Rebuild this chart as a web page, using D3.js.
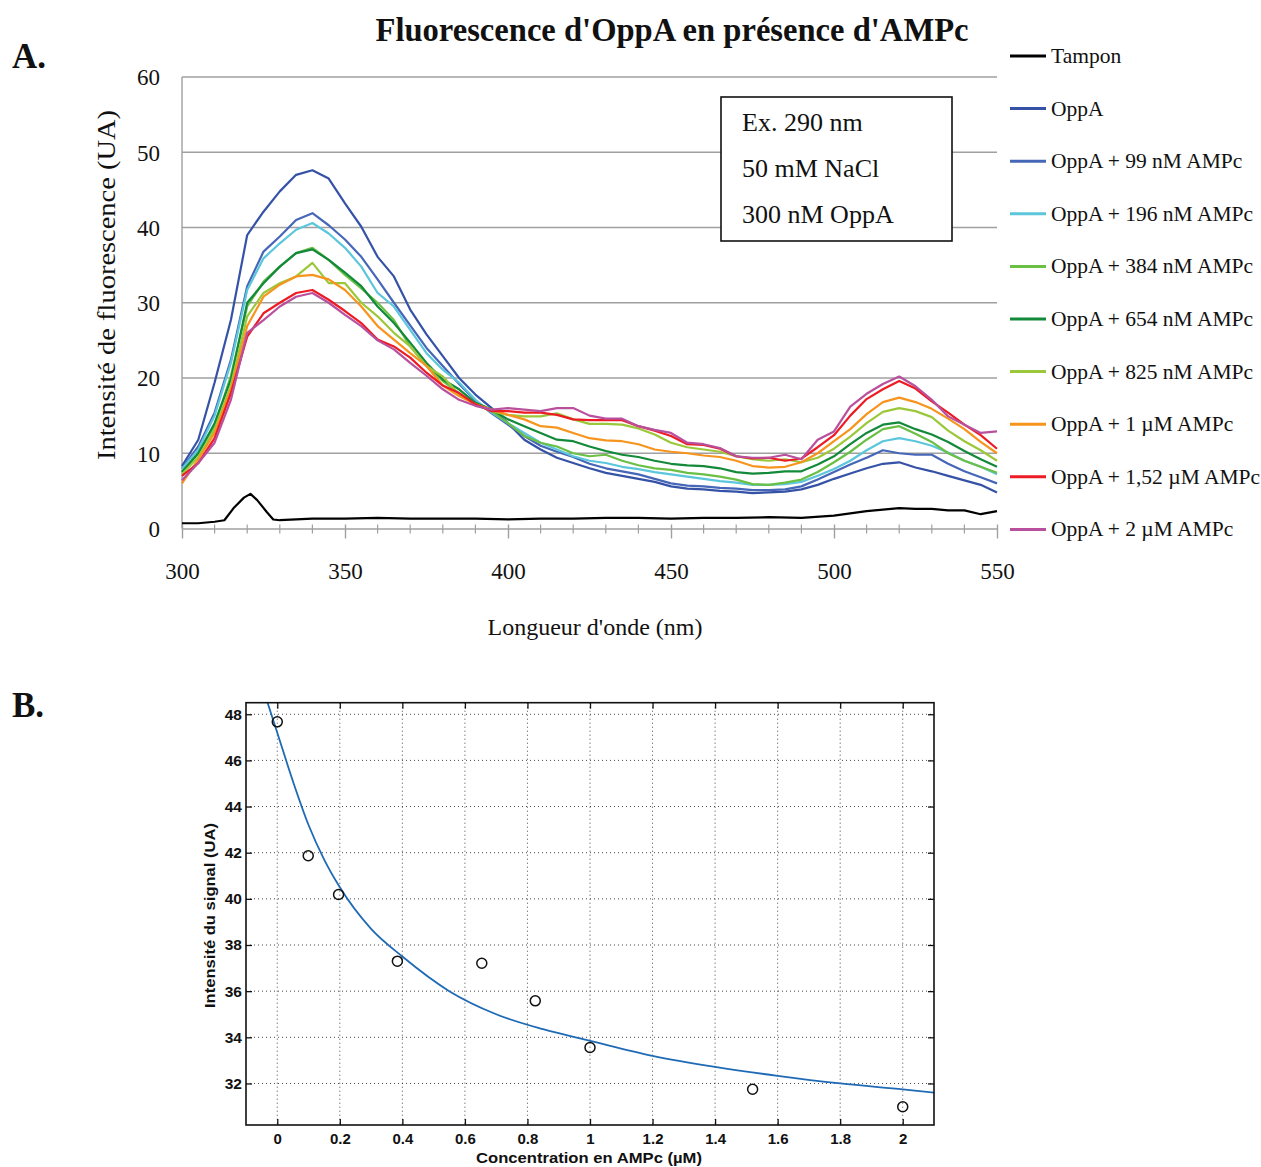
<!DOCTYPE html>
<html><head><meta charset="utf-8">
<script src="https://cdn.jsdelivr.net/npm/d3@7"></script>
<style>body{margin:0;background:#fff}</style>
</head><body>
<svg id="c" width="1261" height="1167"></svg>
<script>
// ---------- Panel A data ----------
const wavelengths = [300,305,310,315,320,325,330,335,340,345,350,355,360,365,370,375,380,385,390,395,400,405,410,415,420,425,430,435,440,445,450,455,460,465,470,475,480,485,490,495,500,505,510,515,520,525,530,535,540,545,550];
const tamponWavelengths = [300,305,310,313,316,319,321,323,326,328,330,340,350,360,370,380,390,400,410,420,430,440,450,460,470,480,490,500,505,510,515,520,525,530,535,540,545,550];
const tampon = [0.7,0.7,0.9,1.1,2.8,4.1,4.6,3.8,2.2,1.2,1.1,1.3,1.3,1.4,1.3,1.3,1.3,1.2,1.3,1.3,1.4,1.4,1.3,1.4,1.4,1.5,1.4,1.7,2.0,2.3,2.5,2.7,2.6,2.6,2.4,2.4,1.9,2.3];
const oppA = [8.3,11.8,19.4,27.7,39.0,42.1,44.8,47.0,47.6,46.5,43.2,40.1,36.1, 33.5,29.1,25.8,22.9,20.0,17.8,16.0,14.0,11.8,10.5,9.4,8.7, 8.0,7.4,7.0,6.6,6.2,5.6,5.3,5.2,5.0,4.9,4.7,4.8,4.9, 5.2,5.8,6.6,7.3,8.0,8.6,8.8,8.1,7.6,7.0,6.4,5.8,4.8];
const oppA99 = [8.0,10.9,15.4,22.4,32.2,36.8,38.8,41.0,41.9,40.3,38.4,36.1,33.1, 30.0,27.0,24.0,21.6,19.2,17.0,15.3,13.8,12.3,11.0,10.2,9.5, 8.6,8.0,7.6,7.2,6.6,6.0,5.7,5.6,5.4,5.3,5.1,5.1,5.2, 5.6,6.5,7.5,8.5,9.4,10.4,10.0,9.8,9.8,8.6,7.6,6.8,6.0];
const oppA196 = [7.9,10.5,15.0,22.0,31.7,35.9,37.9,39.7,40.6,39.2,37.3,34.8,31.3, 29.5,26.4,23.3,21.1,19.4,17.1,15.4,14.0,12.7,11.4,10.5,9.6, 9.0,8.7,8.2,7.9,7.5,7.2,6.9,6.6,6.3,6.1,5.8,5.8,5.9, 6.2,7.0,7.9,9.0,10.4,11.6,12.0,11.6,11.0,10.1,9.0,8.2,7.2];
const oppA384 = [7.5,10.0,13.6,20.3,29.5,32.8,34.8,36.6,37.3,35.7,33.7,31.9,30.0, 27.7,24.2,21.6,19.6,18.0,16.5,15.6,14.0,12.3,11.4,10.9,10.0, 9.6,9.8,9.0,8.4,8.0,7.8,7.4,7.2,6.9,6.5,5.9,5.8,6.1, 6.5,7.5,8.8,10.2,11.8,13.2,13.6,12.6,11.5,10.0,9.0,8.2,7.4];
const oppA654 = [7.5,10.0,14.0,19.8,30.0,32.6,34.8,36.6,37.1,35.7,34.0,32.2,29.5, 27.3,24.7,22.0,19.8,18.5,16.7,15.8,14.5,13.6,12.7,11.8,11.6, 10.9,10.3,9.8,9.5,9.0,8.6,8.4,8.3,8.0,7.5,7.3,7.4,7.6, 7.6,8.5,9.6,11.2,12.7,13.8,14.1,13.2,12.5,11.5,10.3,9.2,8.2];
const oppA825 = [7.2,9.5,13.1,19.0,28.2,31.3,32.6,33.5,35.3,32.6,32.6,30.0,28.2, 26.0,24.2,21.6,20.2,17.8,16.5,15.6,15.1,14.9,14.9,15.3,14.5, 13.9,13.9,13.8,13.3,12.5,11.4,10.8,10.5,10.2,9.6,9.2,9.0,9.2, 8.8,9.4,10.6,12.2,14.0,15.5,16.0,15.6,14.8,13.0,11.6,10.4,9.0];
const oppA1000 = [6.0,9.2,12.7,18.5,26.9,30.8,32.4,33.5,33.7,33.1,31.7,29.5,26.9, 25.1,23.3,21.6,19.0,17.6,16.5,15.8,15.1,14.5,13.6,13.4,12.7, 12.0,11.7,11.6,11.2,10.5,10.2,10.0,9.7,9.5,9.0,8.3,8.1,8.2, 8.8,10.0,11.6,13.2,15.2,16.8,17.4,16.8,15.9,14.6,13.2,11.5,10.0];
const oppA1520 = [7.0,8.7,12.0,18.0,25.5,28.6,30.0,31.3,31.7,30.4,28.9,27.3,25.1, 24.2,22.7,20.7,19.0,18.0,16.5,15.6,15.6,15.4,15.4,15.1,14.5, 14.4,14.4,14.4,13.6,13.0,12.3,11.2,11.1,10.6,9.6,9.3,9.4,9.0, 9.3,10.8,12.4,15.0,17.2,18.5,19.6,18.6,16.9,15.4,13.8,12.4,10.6];
const oppA2000 = [6.4,8.7,11.4,17.1,26.0,27.7,29.5,30.8,31.3,30.0,28.4,26.9,25.0, 23.8,22.0,20.3,18.5,17.1,16.3,15.8,16.0,15.8,15.6,16.0,16.0, 15.0,14.6,14.6,13.6,13.1,12.7,11.4,11.2,10.7,9.6,9.4,9.4,9.8, 9.2,11.8,12.9,16.2,17.9,19.2,20.2,18.9,17.1,14.9,13.8,12.7,12.9];

const seriesNames = ["Tampon","OppA","OppA + 99 nM AMPc","OppA + 196 nM AMPc","OppA + 384 nM AMPc","OppA + 654 nM AMPc","OppA + 825 nM AMPc","OppA + 1 µM AMPc","OppA + 1,52 µM AMPc","OppA + 2 µM AMPc"];
const seriesColors = ["#000000","#3552a6","#4666b8","#5cc6dc","#6abf45","#13893a","#9bc83a","#f7941d","#ed1c24","#b9509e"];
const spectraValues = [tampon, oppA, oppA99, oppA196, oppA384, oppA654, oppA825, oppA1000, oppA1520, oppA2000];

const xTicksA = [300,350,400,450,500,550];
const xMinorTicksA = [310,320,330,340,360,370,380,390,410,420,430,440,460,470,480,490,510,520,530,540];
const yTicksA = [0,10,20,30,40,50,60];
const annotationLines = ["Ex. 290 nm","50 mM NaCl","300 nM OppA"];

// ---------- Panel B data ----------
const concentrations = [0, 0.099, 0.196, 0.384, 0.654, 0.825, 1.0, 1.52, 2.0];
const intensities = [47.67, 41.87, 40.19, 37.30, 37.21, 35.58, 33.56, 31.75, 30.99];
const fitX = [-0.031, 0, 0.05, 0.1, 0.15, 0.2, 0.3, 0.4, 0.55, 0.7, 0.85, 1.0, 1.2, 1.4, 1.6, 1.8, 2.0, 2.103];
const fitY = [48.5, 47.2, 45.1, 43.2, 41.7, 40.5, 38.7, 37.5, 36.0, 35.0, 34.35, 33.85, 33.2, 32.72, 32.33, 32.0, 31.74, 31.6];
const xTicksB = [0,0.2,0.4,0.6,0.8,1,1.2,1.4,1.6,1.8,2];
const yTicksB = [32,34,36,38,40,42,44,46,48];

const svg = d3.select("#c");
const serif = "'Liberation Serif','Times New Roman',serif";
const sans = "'Liberation Sans',Arial,sans-serif";

// ================= PANEL A =================
const xA = d3.scaleLinear().domain([300,550]).range([182,997]);
const yA = d3.scaleLinear().domain([0,60]).range([528.5,77]);
const gA = svg.append("g");

gA.append("g").selectAll("line").data(yTicksA.filter(d=>d>0)).join("line")
  .attr("x1", xA(300)).attr("x2", xA(550)).attr("y1", d=>yA(d)).attr("y2", d=>yA(d))
  .attr("stroke", "#a0a0a0").attr("stroke-width", 1.4);
gA.append("line").attr("x1", xA(300)).attr("x2", xA(300)).attr("y1", yA(60)).attr("y2", yA(0))
  .attr("stroke", "#a0a0a0").attr("stroke-width", 1.4);

const yAxisA = gA.append("g").attr("transform", `translate(${xA(300)},0)`)
  .call(d3.axisLeft(yA).tickValues(yTicksA).tickSize(0).tickPadding(22));
yAxisA.select(".domain").remove();
yAxisA.selectAll("text").attr("font-family", serif).attr("font-size", 23).attr("fill", "#111").attr("dy", "0.34em");

const xAxisA = gA.append("g").attr("transform", `translate(0,${yA(0)})`)
  .call(d3.axisBottom(xA).tickValues(xTicksA).tickSizeInner(10).tickSizeOuter(0).tickPadding(24));
xAxisA.select(".domain").attr("stroke", "#a0a0a0").attr("stroke-width", 1.4);
xAxisA.selectAll(".tick line").attr("y1", -4).attr("stroke", "#a0a0a0").attr("stroke-width", 1.4);
xAxisA.selectAll("text").attr("font-family", serif).attr("font-size", 23).attr("fill", "#111");
xAxisA.append("g").selectAll("line").data(xMinorTicksA).join("line")
  .attr("x1", d=>xA(d)).attr("x2", d=>xA(d)).attr("y1", -4).attr("y2", 5)
  .attr("stroke", "#a0a0a0").attr("stroke-width", 1.2);

gA.append("rect").attr("x", 721).attr("y", 97).attr("width", 231).attr("height", 144)
  .attr("fill", "#fff").attr("stroke", "#111").attr("stroke-width", 1.6);
gA.append("g").selectAll("text").data(annotationLines).join("text")
  .attr("x", 742).attr("y", (d,i)=>131 + i*46)
  .attr("font-family", serif).attr("font-size", 26).attr("fill", "#111").text(d=>d);

const lineA = d3.line().x(d=>xA(d[0])).y(d=>yA(d[1]));
spectraValues.forEach((vals, i) => {
  const wl = i === 0 ? tamponWavelengths : wavelengths;
  const pts = vals.map((v, j) => [wl[j], v]);
  gA.append("path").datum(pts).attr("d", lineA)
    .attr("fill", "none").attr("stroke", seriesColors[i])
    .attr("stroke-width", 2.2).attr("stroke-linejoin", "round");
});

gA.append("text").attr("x", 672).attr("y", 41).attr("text-anchor", "middle")
  .attr("font-family", serif).attr("font-weight", "bold").attr("font-size", 33)
  .attr("textLength", 593).attr("lengthAdjust", "spacingAndGlyphs")
  .attr("fill", "#111").text("Fluorescence d'OppA en présence d'AMPc");

gA.append("text").attr("x", 595).attr("y", 635).attr("text-anchor", "middle")
  .attr("font-family", serif).attr("font-size", 24).attr("fill", "#111").text("Longueur d'onde (nm)");
gA.append("text").attr("transform", "translate(115,285) rotate(-90)").attr("text-anchor", "middle")
  .attr("font-family", serif).attr("font-size", 25).attr("textLength", 350).attr("lengthAdjust", "spacingAndGlyphs")
  .attr("fill", "#111").text("Intensité de fluorescence (UA)");

const leg = gA.append("g").selectAll("g").data(seriesNames).join("g")
  .attr("transform", (d,i)=>`translate(1010,${56 + i*52.6})`);
leg.append("line").attr("x1", 0).attr("x2", 36).attr("y1", 0).attr("y2", 0)
  .attr("stroke", (d,i)=>seriesColors[i]).attr("stroke-width", 3);
leg.append("text").attr("x", 41).attr("y", 7).attr("font-family", serif).attr("font-size", 21.5)
  .attr("fill", "#111").text(d=>d);

svg.append("text").attr("x", 12).attr("y", 68).attr("font-family", serif).attr("font-weight", "bold")
  .attr("font-size", 35).attr("fill", "#111").text("A.");
svg.append("text").attr("x", 12).attr("y", 717).attr("font-family", serif).attr("font-weight", "bold")
  .attr("font-size", 35).attr("fill", "#111").text("B.");

// ================= PANEL B =================
const xB = d3.scaleLinear().domain([-0.1,2.1]).range([246,934]);
const yB = d3.scaleLinear().domain([30.2,48.5]).range([1125,702.7]);
const gB = svg.append("g");

gB.append("rect").attr("x", 246).attr("y", 702.7).attr("width", 688).attr("height", 1125-702.7).attr("fill", "#fff");

gB.append("g").selectAll("line").data(xTicksB).join("line")
  .attr("x1", d=>xB(d)).attr("x2", d=>xB(d)).attr("y1", 702.7).attr("y2", 1125)
  .attr("stroke", "#333").attr("stroke-width", 0.9).attr("stroke-dasharray", "1,3");
gB.append("g").selectAll("line").data(yTicksB).join("line")
  .attr("x1", 246).attr("x2", 934).attr("y1", d=>yB(d)).attr("y2", d=>yB(d))
  .attr("stroke", "#333").attr("stroke-width", 0.9).attr("stroke-dasharray", "1,3");

const fmtB = d3.format("~g");
const xAxB = gB.append("g").attr("transform", "translate(0,1125)")
  .call(d3.axisBottom(xB).tickValues(xTicksB).tickSizeInner(-6).tickSizeOuter(0).tickPadding(10).tickFormat(fmtB));
const xAxBTop = gB.append("g").attr("transform", "translate(0,702.7)")
  .call(d3.axisTop(xB).tickValues(xTicksB).tickSizeInner(-6).tickSizeOuter(0).tickFormat(""));
const yAxB = gB.append("g").attr("transform", "translate(246,0)")
  .call(d3.axisLeft(yB).tickValues(yTicksB).tickSizeInner(-6).tickSizeOuter(0).tickPadding(4).tickFormat(fmtB));
const yAxBRight = gB.append("g").attr("transform", "translate(934,0)")
  .call(d3.axisRight(yB).tickValues(yTicksB).tickSizeInner(-6).tickSizeOuter(0).tickFormat(""));
[xAxB, xAxBTop, yAxB, yAxBRight].forEach(a => {
  a.select(".domain").remove();
  a.selectAll(".tick line").attr("stroke", "#111").attr("stroke-width", 1.3);
});
xAxB.selectAll("text").attr("font-family", sans).attr("font-weight", "bold").attr("font-size", 15).attr("fill", "#111").attr("dy", "0.6em");
yAxB.selectAll("text").attr("font-family", sans).attr("font-weight", "bold").attr("font-size", 15.5).attr("fill", "#111");

svg.append("defs").append("clipPath").attr("id", "clipB").append("rect")
  .attr("x", 246).attr("y", 702.7).attr("width", 688).attr("height", 1125-702.7);
const fitPts = fitX.map((x,i)=>[x, fitY[i]]);
gB.append("path").datum(fitPts).attr("clip-path", "url(#clipB)")
  .attr("d", d3.line().x(d=>xB(d[0])).y(d=>yB(d[1])).curve(d3.curveMonotoneX))
  .attr("fill", "none").attr("stroke", "#1f6ab5").attr("stroke-width", 1.8);

gB.append("g").selectAll("circle").data(concentrations).join("circle")
  .attr("cx", d=>xB(d)).attr("cy", (d,i)=>yB(intensities[i])).attr("r", 5)
  .attr("fill", "none").attr("stroke", "#111").attr("stroke-width", 1.5);

gB.append("rect").attr("x", 246).attr("y", 702.7).attr("width", 688).attr("height", 1125-702.7)
  .attr("fill", "none").attr("stroke", "#111").attr("stroke-width", 1.6);

gB.append("text").attr("x", 589).attr("y", 1163).attr("text-anchor", "middle")
  .attr("font-family", sans).attr("font-weight", "bold").attr("font-size", 15.5)
  .attr("textLength", 226).attr("lengthAdjust", "spacingAndGlyphs")
  .attr("fill", "#111").text("Concentration en AMPc (µM)");
gB.append("text").attr("transform", "translate(215,915.5) rotate(-90)").attr("text-anchor", "middle")
  .attr("font-family", sans).attr("font-weight", "bold").attr("font-size", 15.5)
  .attr("textLength", 185).attr("lengthAdjust", "spacingAndGlyphs")
  .attr("fill", "#111").text("Intensité du signal (UA)");
</script>
</body></html>
